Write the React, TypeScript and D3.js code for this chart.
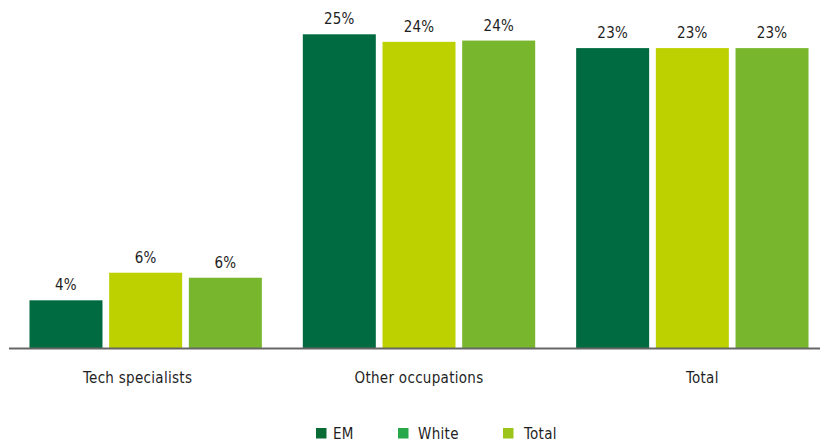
import React from "react";
import * as d3 from "d3";

const categories = ["Tech specialists", "Other occupations", "Total"];
const seriesNames = ["EM", "White", "Total"];
const emValues = [3.8, 25.0, 23.9];
const whiteValues = [6.0, 24.4, 23.9];
const totalValues = [5.6, 24.5, 23.9];
const emLabels = ["4%", "25%", "23%"];
const whiteLabels = ["6%", "24%", "23%"];
const totalLabels = ["6%", "24%", "23%"];

const barColors = ["#006b40", "#bdd000", "#78b72d"];
const legendColors = ["#0a6b35", "#27a84a", "#9dc41a"];
const labelShift = [-8, 0, 10];

const W = 820;
const H = 444;
const FONT = "'DejaVu Sans Condensed', 'DejaVu Sans', sans-serif";

export default function App() {
  const series = [emValues, whiteValues, totalValues];
  const labels = [emLabels, whiteLabels, totalLabels];
  const x0 = d3.scaleBand<string>().domain(categories).range([9, 829]).paddingInner(0).paddingOuter(0);
  const x1 = d3
    .scaleBand<number>()
    .domain([0, 1, 2])
    .range([0, x0.bandwidth()])
    .paddingInner(0.084)
    .paddingOuter(0.257);
  const y = d3.scaleLinear().domain([0, 25]).range([348, 34.3]);

  const legendX = [316, 398, 503];
  const legendTextX = [333, 418, 524];

  return (
    <svg width={W} height={H} style={{ position: "absolute", left: 0, top: 0 }}>
      <rect width={W} height={H} fill="#fff" />
      {categories.map((c, ci) => (
        <g key={c}>
          {series.map((s, si) => {
            const bx = (x0(c) as number) + (x1(si) as number);
            const bw = x1.bandwidth();
            return (
              <g key={si}>
                <rect x={bx} y={y(s[ci])} width={bw} height={y(0) - y(s[ci])} fill={barColors[si]} />
                <text
                  x={bx + bw / 2}
                  y={y(s[ci]) - 10}
                  textAnchor="middle"
                  fontFamily={FONT}
                  fontSize={15}
                  letterSpacing={0.2}
                  fill="#1e1e1e"
                >
                  {labels[si][ci]}
                </text>
              </g>
            );
          })}
          <text
            x={(x0(c) as number) + x0.bandwidth() / 2 + labelShift[ci]}
            y={383}
            textAnchor="middle"
            fontFamily={FONT}
            fontSize={15}
            letterSpacing={0.3}
            fill="#1e1e1e"
          >
            {c}
          </text>
        </g>
      ))}
      <line x1={9} x2={W} y1={348.5} y2={348.5} stroke="#666" strokeWidth={2} />
      {seriesNames.map((n, i) => (
        <g key={n}>
          <rect x={legendX[i]} y={428} width={10.5} height={10.5} fill={legendColors[i]} />
          <text x={legendTextX[i]} y={438.5} fontFamily={FONT} fontSize={15} letterSpacing={0.3} fill="#1e1e1e">
            {n}
          </text>
        </g>
      ))}
    </svg>
  );
}
